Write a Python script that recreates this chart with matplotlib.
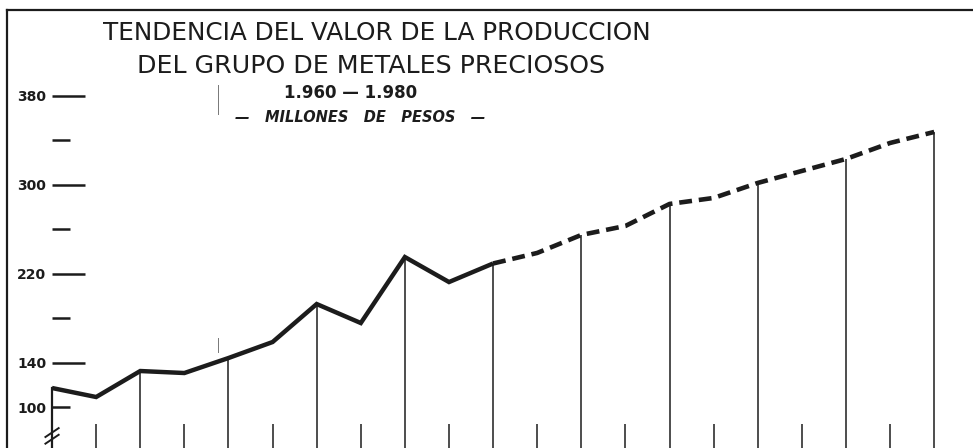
import matplotlib.pyplot as plt
from matplotlib.lines import Line2D

# valores (millones de pesos)
anios_reales = [1960, 1961, 1962, 1963, 1964, 1965, 1966, 1967, 1968, 1969, 1970]
valor_real = [117.1, 109.0, 132.4, 130.6, 144.1, 158.5, 192.7, 175.6, 235.0, 212.5, 229.2]
anios_proy = [1970, 1971, 1972, 1973, 1974, 1975, 1976, 1977, 1978, 1979, 1980]
valor_proy = [229.2, 238.7, 254.9, 263.0, 282.8, 288.2, 301.7, 312.5, 323.3, 337.7, 347.6]

ticks_y = [140, 220, 300, 380]
ticks_y_menores = [100, 180, 260, 340]
etiquetas_menores = ['100', '', '', '']

INK = '#1c1c1c'
W, H = 973, 448


def fx(px):
    return px / W


def fy(py):
    return 1 - py / H


fig = plt.figure(figsize=(W / 100, H / 100), dpi=100)
fig.patch.set_facecolor('white')
ax = fig.add_axes([0, 0, 1, 1])
ax.set_facecolor('white')
ax.set_xlim(1958.82, 1980.88)
ax.set_ylim(63.1, 466.4)

# linea real y proyeccion
ax.plot(anios_reales, valor_real, color=INK, lw=3.2, solid_joinstyle='miter',
        solid_capstyle='butt', zorder=3)
ax.plot(anios_proy, valor_proy, color=INK, lw=3.3, dashes=(2.8, 1.5), zorder=3)

# lineas verticales en los anios pares
todos_anios = anios_reales + anios_proy[1:]
todos_valores = valor_real + valor_proy[1:]
pares = [a for a in todos_anios if a % 2 == 0 and a > 1960]
vals_pares = [v for a, v in zip(todos_anios, todos_valores) if a % 2 == 0 and a > 1960]
ax.vlines(pares, ax.get_ylim()[0], vals_pares, color=INK, lw=1.1, zorder=2)

# eje vertical
for s in ['top', 'right', 'bottom']:
    ax.spines[s].set_visible(False)
ax.spines['left'].set_position(('data', 1960))
ax.spines['left'].set_bounds(ax.get_ylim()[0], valor_real[0])
ax.spines['left'].set_linewidth(1.6)
ax.spines['left'].set_color(INK)

ax.set_yticks(ticks_y, labels=[str(t) for t in ticks_y])
ax.set_yticks(ticks_y_menores, labels=etiquetas_menores, minor=True)
ax.tick_params(axis='y', which='major', direction='in', length=24, width=1.8,
               color=INK, pad=4, labelsize=10, labelcolor=INK)
ax.tick_params(axis='y', which='minor', direction='in', length=13, width=1.8,
               color=INK, pad=4, labelsize=10, labelcolor=INK)
for lab in ax.get_yticklabels() + ax.get_yticklabels(minor=True):
    lab.set_fontweight('bold')

# marcas cortas en los anios impares
ax.set_xticks([])
ax.set_xticks([a for a in todos_anios if a % 2 == 1], minor=True)
ax.tick_params(axis='x', which='minor', direction='in', length=17, width=1.1,
               color=INK, labelbottom=False)

# corte del eje
for dy in (0, 6):
    ax.plot([1959.85, 1960.15], [67 + dy, 75 + dy], color=INK, lw=1.4,
            transform=ax.transData, clip_on=False)

# marco del grafico
fig.add_artist(Line2D([fx(7), 1], [fy(10), fy(10)], transform=fig.transFigure,
                      color=INK, lw=1.6))
fig.add_artist(Line2D([fx(7), fx(7)], [0, fy(10)], transform=fig.transFigure,
                      color=INK, lw=1.6))
fig.add_artist(Line2D([fx(218), fx(218)], [fy(85), fy(114)], transform=fig.transFigure,
                      color='#777777', lw=0.7))
fig.add_artist(Line2D([fx(218), fx(218)], [fy(338), fy(352)], transform=fig.transFigure,
                      color='#777777', lw=0.7))

# textos
fig.text(fx(377), fy(33), 'TENDENCIA DEL VALOR DE LA PRODUCCION', ha='center',
         va='center', fontsize=17.8, color=INK)
fig.text(fx(371), fy(66), 'DEL GRUPO DE METALES PRECIOSOS', ha='center',
         va='center', fontsize=18.2, color=INK)
fig.text(fx(351), fy(93), '1.960 \u2014 1.980', ha='center', va='center',
         fontsize=12, fontweight='bold', color=INK)
fig.text(fx(360), fy(117), '\u2014   MILLONES   DE   PESOS   \u2014', ha='center',
         va='center', fontsize=10.5, fontweight='bold', fontstyle='italic', color=INK)

fig.savefig('out.png', dpi=100)
